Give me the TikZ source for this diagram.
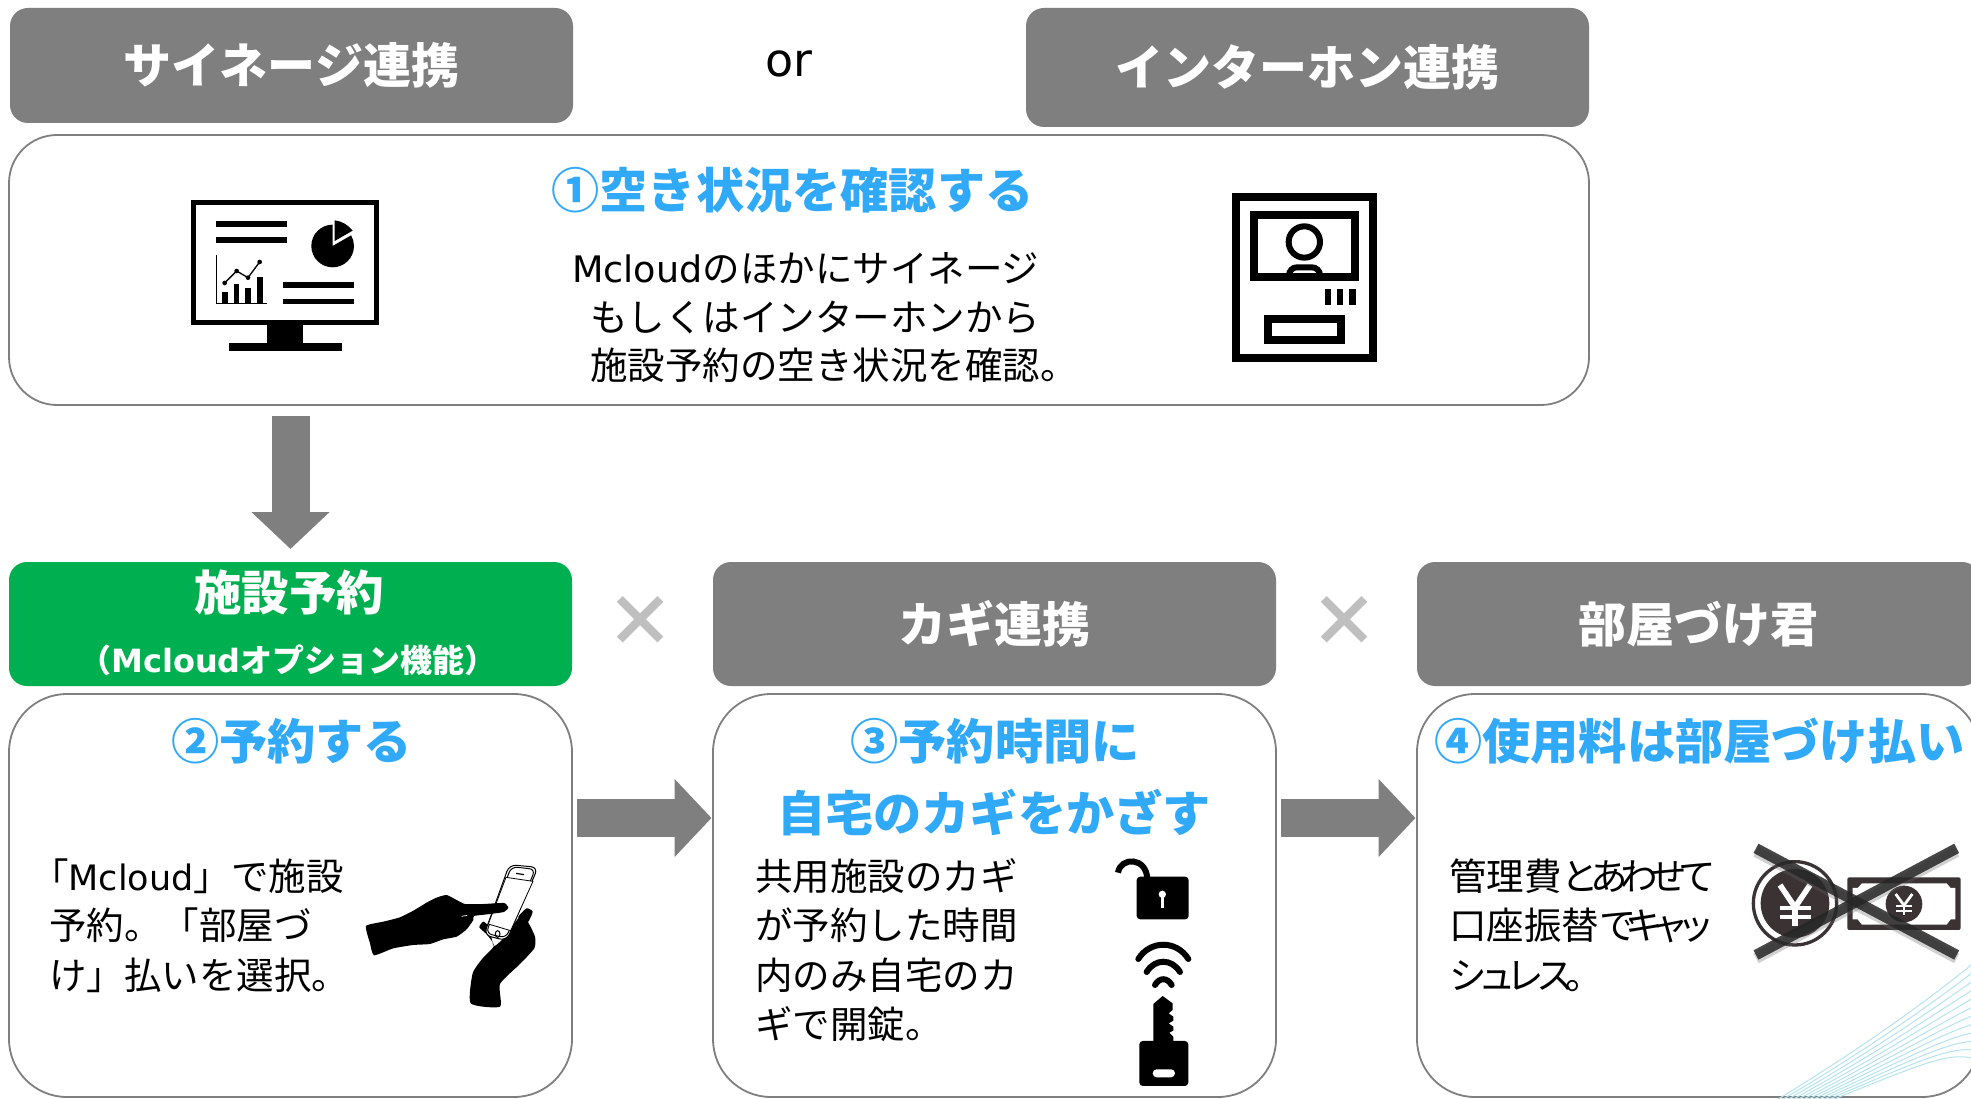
\documentclass[tikz,border=0pt]{standalone}
\usepackage{fontspec}
\usetikzlibrary{arrows.meta}
\setmainfont{DejaVu Sans}
\newfontfamily\jp{Noto Sans CJK JP}
\newfontfamily\jpk[LetterSpace=-22]{Noto Sans CJK JP}
\newfontfamily\jpkk[LetterSpace=-30]{Noto Sans CJK JP}
\newfontfamily\latf{DejaVu Sans}
\newcommand{\lat}[1]{{\latf #1}}
\newcommand{\latb}[1]{{\latf\fontsize{35}{37.5}\selectfont #1}}
\newcommand{\latc}[1]{{\latf\fontsize{36.5}{37.5}\selectfont #1}}
\newcommand{\kana}[1]{{\jpk #1}}
\newcommand{\kanat}[1]{{\jpkk #1}}
\definecolor{hdrgray}{HTML}{7F7F7F}
\definecolor{okgreen}{HTML}{00B050}
\definecolor{stepblue}{HTML}{30A9F8}
\definecolor{iconink}{HTML}{3A3233}
\definecolor{timesgray}{HTML}{BFBFBF}
\definecolor{waveblue}{HTML}{B5E3EE}
\tikzset{
 hdr/.style={rectangle,rounded corners=18pt,fill=hdrgray,inner sep=0pt,outer sep=0pt,minimum width=563pt,text=white,font=\jp\bfseries\fontsize{48}{48}\selectfont},
 hdrgreen/.style={hdr,fill=okgreen},
 panel/.style={rectangle,draw=hdrgray,line width=1.8pt,inner sep=0pt,outer sep=0pt},
 steptitle/.style={text=stepblue,inner sep=0pt,font=\jp\bfseries\fontsize{48.2}{48}\selectfont},
 body/.style={anchor=base west,inner sep=0pt,text=black,font=\jp\fontsize{37.5}{37.5}\selectfont},
 blockarrow/.style={line width=38pt,draw=hdrgray,-{Triangle[length=37pt,width=76pt,fill=hdrgray]}},
 timesmark/.style={text=timesgray,inner sep=0pt,font=\jp\bfseries\fontsize{70}{70}\selectfont},
 icon/.style={fill=black,draw=none},
}
\begin{document}
\begin{tikzpicture}[x=1pt,y=-1pt]
\useasboundingbox (0,0) rectangle (1971,1099);
\clip (0,0) rectangle (1971,1099);
\fill[white] (0,0) rectangle (1971,1099);

% headers
\node[hdr,minimum height=115pt] (sig) at (291.5,65.5) {サイネージ連携};
\node[hdr,minimum height=119pt] (int) at (1307.5,67.5) {インターホン連携};
\node[inner sep=0pt,font=\latf\fontsize{46}{46}\selectfont] (orw) at (789,64) {or};

% panels
\node[panel,rounded corners=48pt,minimum width=1580pt,minimum height=270pt] (p1) at (799,270) {};
\node[hdrgreen,minimum height=124pt] (green) at (290.5,624) {};
\node[hdr,minimum height=124pt] (key) at (994.5,624) {カギ連携};
\node[hdr,minimum height=124pt] (room) at (1698.5,624) {部屋づけ君};
\node[panel,rounded corners=58pt,minimum width=563pt,minimum height=403pt] (p2) at (290.5,895.5) {};
\node[panel,rounded corners=58pt,minimum width=563pt,minimum height=403pt] (p3) at (994.5,895.5) {};
\node[panel,rounded corners=58pt,minimum width=563pt,minimum height=403pt] (p4) at (1698.5,895.5) {};

% green header text
\node[inner sep=0pt,text=white,font=\jp\bfseries\fontsize{47.5}{47.5}\selectfont] (gt1) at (289,592) {施設予約};
\node[inner sep=0pt,text=white,font=\jp\bfseries\fontsize{32}{32}\selectfont] (gt2) at (288,660) {（\lat{Mcloud}オプション機能）};

% times marks
\node[timesmark] (t1) at (640,621) {×};
\node[timesmark] (t2) at (1344,621) {×};

% arrows
\coordinate (arrowrow) at (0,818);
\draw[blockarrow,shorten <=5pt,shorten >=1.5pt] (p2.east |- arrowrow) -- (p3.west |- arrowrow);
\draw[blockarrow,shorten <=5pt,shorten >=1.5pt] (p3.east |- arrowrow) -- (p4.west |- arrowrow);
\draw[blockarrow,shorten <=11pt,shorten >=13pt] (p1.south -| green.north) -- (green.north);

% step titles
\node[steptitle] (s1) at (792.5,190) {①空き状況を確認する};
\node[steptitle] (s2) at (291.5,741) {②予約する};
\node[steptitle] (s3a) at (995,741) {③予約時間に};
\node[steptitle] (s3b) at (994,813) {自宅のカギをかざす};
\node[steptitle,anchor=west] (s4) at (1434,741) {④使用料は部屋づけ払い};

% body text
\node[body] (b1a) at (572,283) {\latc{Mcloud}のほかにサイネージ};
\node[body] (b1b) at (590,331) {もしくはインターホンから};
\node[body] (b1c) at (590,380) {施設予約の空き状況を確認。};

\node[body] (b2a) at (31,890) {「\latb{Mcloud}」で施設};
\node[body] (b2b) at (49,939) {予約。「部屋づ};
\node[body] (b2c) at (49,989) {け」払いを選択。};

\node[body] (b3a) at (755,890) {共用施設のカギ};
\node[body] (b3b) at (755,939) {が予約した時間};
\node[body] (b3c) at (755,989) {内のみ自宅のカ};
\node[body] (b3d) at (755,1038) {ギで開錠。};

\node[body] (b4a) at (1449,890) {管理費\kana{とあわせて}};
\node[body] (b4b) at (1449,939) {口座振替\kanat{でキャッ}};
\node[body] (b4c) at (1449,989) {\kana{シュレス。}};

% monitor icon
\begin{scope}[shift={(150,160)},x=0.3333pt,y=-0.3333pt]
 \draw[black,line width=5.2pt] (130,128) rectangle (680,487);
 \fill (352,495) rectangle (460,552);
 \fill (236,550) rectangle (575,574);
 \fill (198,182) rectangle (412,200);
 \fill (198,232) rectangle (412,249);
 \fill (398,367) rectangle (612,384);
 \fill (398,416) rectangle (612,433);
 \fill (548,194) arc[start angle=-90,end angle=-390,radius=64] -- (548,258) -- cycle;
 \fill (554,181) .. controls (575,183) and (595,195) .. (608,212) -- (554,243) -- cycle;
 \draw[line width=1.5pt] (200,286) -- (200,431) -- (352,431);
 \fill (217,397) rectangle (234,431);
 \fill (251,372) rectangle (268,431);
 \fill (286,385) rectangle (303,431);
 \fill (320,350) rectangle (338,431);
 \draw[line width=1.3pt] (224,369) -- (260,333) -- (294,353) -- (329,306);
 \foreach \a/\b in {224/369,260/333,294/353,329/306} \fill (\a,\b) circle[radius=7];
\end{scope}

% intercom icon
\begin{scope}[shift={(1200,170)},x=0.3333pt,y=-0.3333pt]
 \draw[black,line width=8pt] (108,80) rectangle (518,563);
 \draw[black,line width=8pt] (162,136) rectangle (465,322);
 \draw[black,line width=6pt] (313,216) circle[radius=47];
 \draw[black,line width=6pt,rounded corners=8pt] (267,322) -- (267,292) -- (360,292) -- (360,322);
 \fill (374,358) rectangle (392,406);
 \fill (410,358) rectangle (430,406);
 \fill (446,358) rectangle (467,406);
 \draw[black,line width=8pt] (204,447) rectangle (423,509);
\end{scope}

% hands and phone icon
\begin{scope}[shift={(350,840)},x=0.3333pt,y=-0.3333pt]
 \fill plot[smooth cycle,tension=0.35] coordinates {(388,262) (400,245) (418,262) (432,318) (470,285) (505,235) (530,240) (555,290) (553,325) (510,372) (450,432) (450,500) (362,490) (368,400) (398,355) (432,318) (412,285)};
 \draw[line width=1pt,fill=white,rounded corners=7pt] (478,74) -- (564,82) -- (470,302) -- (402,285) -- cycle;
 \draw[line width=1pt,rounded corners=6pt] (484,80) -- (556,88) -- (468,294) -- (408,280) -- cycle;
 \draw[line width=.8pt,fill=white] (468,112) -- (549,124) -- (482,272) -- (415,252) -- cycle;
 \draw[line width=1pt] (443,282) ellipse[x radius=7,y radius=10];
 \draw[line width=1.2pt] (498,100) -- (522,104);
 \fill plot[smooth cycle,tension=0.35] coordinates {(505,230) (530,205) (548,215) (535,245) (515,250)};
 \fill plot[smooth cycle,tension=0.3] coordinates {(48,258) (100,245) (150,232) (190,212) (235,185) (262,172) (290,165) (320,180) (345,192) (400,192) (462,189) (475,203) (462,216) (420,222) (372,228) (370,240) (350,268) (320,290) (280,298) (240,312) (190,315) (130,325) (72,346) (60,310)};
 \draw[white,line width=.7pt] (335,229) -- (352,226);
\end{scope}

% lock, wifi, key icons
\begin{scope}[shift={(1090,840)},x=0.3333pt,y=-0.3333pt]
 \fill[rounded corners=3.5pt] (140,110) rectangle (296,238);
 \draw[line width=6pt] (84,98) .. controls (92,50) and (170,50) .. (172,118);
 \fill[white] (217,163) circle[radius=11];
 \fill[white] (212,165) rectangle (222,204);
 \draw[line width=6pt,line cap=round] (145,357) .. controls (180,300) and (260,300) .. (295,357);
 \draw[line width=6pt,line cap=round] (170,396) .. controls (195,355) and (245,355) .. (270,396);
 \draw[line width=6pt,line cap=round] (195,435) .. controls (208,412) and (232,412) .. (245,435);
 \fill (190,610) -- (190,492) -- (218,468) -- (248,490) -- (248,510) -- (236,520) -- (250,530) -- (250,542) -- (236,550) -- (250,560) -- (250,572) -- (238,578) -- (250,590) -- (250,610) -- cycle;
 \fill[rounded corners=3.5pt] (148,603) rectangle (295,738);
 \fill[white,rounded corners=4pt] (188,688) rectangle (255,712);
\end{scope}

% decorative lines
\begin{scope}[shift={(1720,820)},x=0.3333pt,y=-0.3333pt]
 \foreach \i in {0,...,11}
  \draw[waveblue,line width=1pt] ({170+\i*15},840) .. controls ({400+\i*16},{700+\i*4}) and ({600+\i*8},{560+\i*12}) .. (760,{430+\i*26});
\end{scope}

% yen coin, banknote and cross icon
\begin{scope}[shift={(1720,820)},x=0.3333pt,y=-0.3333pt]
 \draw[iconink,line width=3.3pt] (225,250) circle[radius=125];
 \fill[iconink] (225,250) circle[radius=103];
 \draw[white,line width=5.6pt] (180,195) -- (225,262) -- (270,195);
 \draw[white,line width=5.6pt] (225,262) -- (225,318);
 \draw[white,line width=4pt] (180,265) -- (272,265);
 \draw[white,line width=4pt] (180,292) -- (272,292);
 \fill[iconink,rounded corners=2pt] (382,172) rectangle (722,330);
 \fill[white] (398,204) -- (413,204) -- (426,190) -- (680,190) -- (692,204) -- (706,204) -- (706,298) -- (692,298) -- (680,314) -- (426,314) -- (413,298) -- (398,298) -- cycle;
 \fill[iconink] (552,252) circle[radius=55];
 \draw[white,line width=2.8pt] (527,222) -- (552,256) -- (577,222);
 \draw[white,line width=2.8pt] (552,256) -- (552,286);
 \draw[white,line width=2pt] (528,258) -- (576,258);
 \draw[white,line width=2pt] (528,272) -- (576,272);
 \draw[black!60,opacity=.3,line width=11pt] (108,95) -- (710,415);
 \draw[black!60,opacity=.3,line width=11pt] (710,95) -- (108,415);
 \draw[black!85,opacity=.85,line width=10.5pt] (108,85) -- (710,405);
 \draw[black!85,opacity=.85,line width=10.5pt] (710,85) -- (108,405);
\end{scope}
\end{tikzpicture}
\end{document}
